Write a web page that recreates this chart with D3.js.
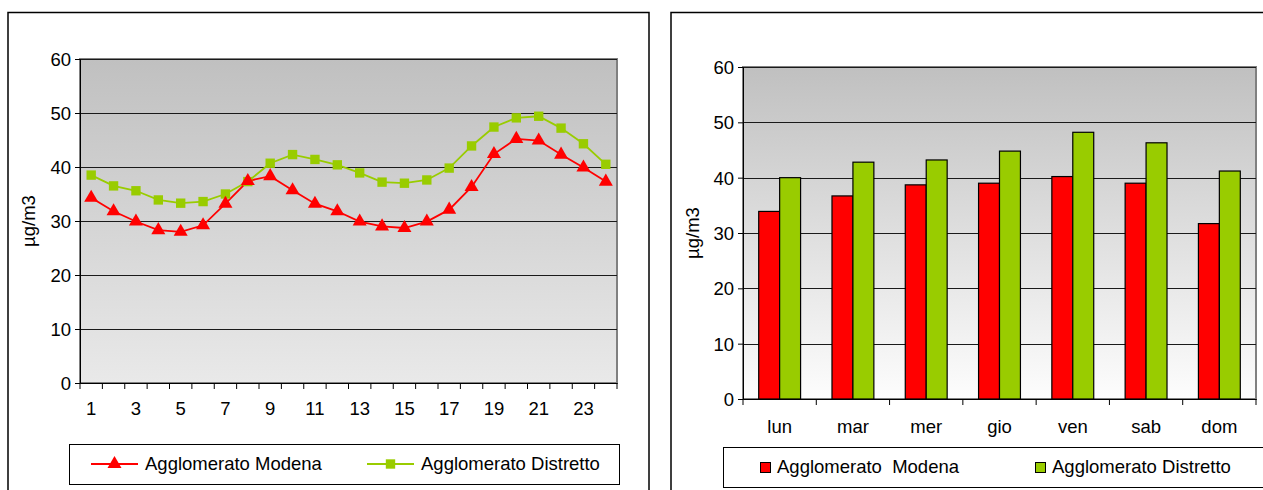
<!DOCTYPE html>
<html>
<head>
<meta charset="utf-8">
<script src="https://cdn.jsdelivr.net/npm/d3@7"></script>
<style>
  body { margin: 0; background: #fff; }
  text { font-family: "Liberation Sans", Arial, sans-serif; fill: #000; }
</style>
</head>
<body>
<svg id="chart" width="1263" height="490"></svg>
<script>
// hourly averages (ore 1..24)
var hours = d3.range(1, 25);
var hourModena = [34.3, 31.8, 29.9, 28.3, 28.0, 29.2, 33.2, 37.4, 38.3, 35.7, 33.2, 31.8,
                  29.9, 29.0, 28.7, 29.9, 32.1, 36.3, 42.4, 45.2, 44.9, 42.3, 39.9, 37.3];
var hourDistretto = [38.5, 36.5, 35.6, 33.9, 33.3, 33.6, 35.0, 37.3, 40.7, 42.3, 41.4, 40.4,
                     38.9, 37.2, 37.0, 37.6, 39.8, 43.9, 47.4, 49.1, 49.4, 47.2, 44.3, 40.5];

// daily averages
var days = ["lun", "mar", "mer", "gio", "ven", "sab", "dom"];
var dayModena = [33.9, 36.7, 38.7, 39.0, 40.2, 39.0, 31.7];
var dayDistretto = [40.0, 42.8, 43.2, 44.8, 48.2, 46.3, 41.2];

var yTicks = [0, 10, 20, 30, 40, 50, 60];
var unitLabel = "µg/m3";
var seriesNames = ["Agglomerato Modena", "Agglomerato Distretto"];
var seriesNamesBar = ["Agglomerato  Modena", "Agglomerato Distretto"];

var red = "#ff0000", green = "#99cc00";
var fs = "18.5px";

var svg = d3.select("#chart");
var defs = svg.append("defs");

function gradient(id, bottom) {
  var g = defs.append("linearGradient").attr("id", id)
      .attr("x1", 0).attr("y1", 0).attr("x2", 0).attr("y2", 1);
  g.append("stop").attr("offset", "0%").attr("stop-color", "#c0c0c0");
  g.append("stop").attr("offset", "100%").attr("stop-color", bottom);
}
gradient("bgLeft", "#e9e9e9");
gradient("bgRight", "#fdfdfd");

function frame(x, y, w, h, fill, yScale) {
  var g = svg.append("g");
  g.append("rect").attr("x", x).attr("y", y).attr("width", w).attr("height", h)
    .attr("fill", fill).attr("stroke", "#808080").attr("stroke-width", 2);
  g.selectAll(".grid").data(yTicks.slice(1)).enter().append("line")
    .attr("x1", x).attr("x2", x + w)
    .attr("y1", function (d) { return Math.round(yScale(d)) + 0.5; })
    .attr("y2", function (d) { return Math.round(yScale(d)) + 0.5; })
    .attr("stroke", "#1a1a1a").attr("stroke-width", 1);
  var ax = svg.append("g").attr("transform", "translate(" + x + ",0)")
    .call(d3.axisLeft(yScale).tickValues(yTicks).tickSize(5).tickPadding(4));
  ax.select(".domain").attr("stroke", "#000");
  ax.selectAll("text").style("font-size", fs).attr("dy", "0.35em");
}

// ---------- left: line chart ----------
svg.append("rect").attr("x", 8).attr("y", 12.5).attr("width", 641).attr("height", 500)
  .attr("fill", "none").attr("stroke", "#000").attr("stroke-width", 1.5);

var xL = d3.scaleBand().domain(hours).range([80, 617]);
var yL = d3.scaleLinear().domain([0, 60]).range([383, 59]);

frame(80, 59, 537, 324, "url(#bgLeft)", yL);

var axL = svg.append("g").attr("transform", "translate(0,383)")
  .call(d3.axisBottom(xL).tickSize(0).tickPadding(19)
    .tickFormat(function (d) { return d % 2 == 1 ? d : ""; }));
axL.select(".domain").attr("stroke", "#000");
axL.selectAll("text").style("font-size", fs);
svg.append("g").selectAll("line").data(d3.range(25)).enter().append("line")
  .attr("x1", function (i) { return 80 + i * xL.step(); })
  .attr("x2", function (i) { return 80 + i * xL.step(); })
  .attr("y1", 383).attr("y2", 389).attr("stroke", "#000");

var cx = function (d, i) { return xL(hours[i]) + xL.bandwidth() / 2; };
var line = d3.line().x(cx).y(function (d) { return yL(d); });

svg.append("path").datum(hourDistretto).attr("d", line)
  .attr("fill", "none").attr("stroke", green).attr("stroke-width", 1.8);
svg.append("path").datum(hourModena).attr("d", line)
  .attr("fill", "none").attr("stroke", red).attr("stroke-width", 1.8);

var tri = d3.symbol().type(d3.symbolTriangle).size(85);
var sq = d3.symbol().type(d3.symbolSquare).size(88);

svg.append("g").selectAll("path").data(hourDistretto).enter().append("path")
  .attr("d", sq).attr("fill", green)
  .attr("transform", function (d, i) { return "translate(" + cx(d, i) + "," + yL(d) + ")"; });
svg.append("g").selectAll("path").data(hourModena).enter().append("path")
  .attr("d", tri).attr("fill", red)
  .attr("transform", function (d, i) { return "translate(" + cx(d, i) + "," + yL(d) + ")"; });

svg.append("text").attr("transform", "translate(35,221) rotate(-90)")
  .attr("text-anchor", "middle").style("font-size", fs).text(unitLabel);

// legend left
var legL = svg.append("g");
legL.append("rect").attr("x", 69.5).attr("y", 444.5).attr("width", 550).attr("height", 40)
  .attr("fill", "#fff").attr("stroke", "#000");
[[91, red, tri], [367, green, sq]].forEach(function (o, i) {
  legL.append("line").attr("x1", o[0]).attr("x2", o[0] + 47).attr("y1", 464).attr("y2", 464)
    .attr("stroke", o[1]).attr("stroke-width", 1.8);
  legL.append("path").attr("d", o[2]).attr("fill", o[1])
    .attr("transform", "translate(" + (o[0] + 23.5) + ",464)");
  legL.append("text").attr("x", o[0] + 54).attr("y", 464).attr("dy", "0.35em")
    .style("font-size", fs).text(seriesNames[i]);
});

// ---------- right: bar chart ----------
svg.append("rect").attr("x", 671).attr("y", 12.5).attr("width", 700).attr("height", 500)
  .attr("fill", "none").attr("stroke", "#000").attr("stroke-width", 1.5);

var xR = d3.scaleBand().domain(days).range([743, 1256]);
var yR = d3.scaleLinear().domain([0, 60]).range([399, 67]);

frame(743, 67, 513, 332, "url(#bgRight)", yR);

var axR = svg.append("g").attr("transform", "translate(0,399)")
  .call(d3.axisBottom(xR).tickSize(0).tickPadding(21));
axR.select(".domain").attr("stroke", "#000");
axR.selectAll("text").style("font-size", fs);
svg.append("g").selectAll("line").data(d3.range(8)).enter().append("line")
  .attr("x1", function (i) { return 743 + i * xR.step(); })
  .attr("x2", function (i) { return 743 + i * xR.step(); })
  .attr("y1", 399).attr("y2", 405).attr("stroke", "#000");

var bw = xR.step() / 3.5;
[[dayModena, red, 0], [dayDistretto, green, 1]].forEach(function (s) {
  svg.append("g").selectAll("rect").data(s[0]).enter().append("rect")
    .attr("x", function (d, i) { return xR(days[i]) + bw * 0.75 + s[2] * bw; })
    .attr("y", function (d) { return yR(d); })
    .attr("width", bw).attr("height", function (d) { return yR(0) - yR(d); })
    .attr("fill", s[1]).attr("stroke", "#000").attr("stroke-width", 1.2);
});

svg.append("text").attr("transform", "translate(699,233) rotate(-90)")
  .attr("text-anchor", "middle").style("font-size", fs).text(unitLabel);

// legend right
var legR = svg.append("g");
legR.append("rect").attr("x", 723.5).attr("y", 447.5).attr("width", 600).attr("height", 40)
  .attr("fill", "#fff").attr("stroke", "#000");
[[760, red], [1035, green]].forEach(function (o, i) {
  legR.append("rect").attr("x", o[0] + 0.5).attr("y", 462.5).attr("width", 10).attr("height", 10)
    .attr("fill", o[1]).attr("stroke", "#000");
  legR.append("text").attr("x", o[0] + 17).attr("y", 467).attr("dy", "0.35em")
    .style("font-size", fs).style("white-space", "pre").text(seriesNamesBar[i]);
});
</script>
</body>
</html>
